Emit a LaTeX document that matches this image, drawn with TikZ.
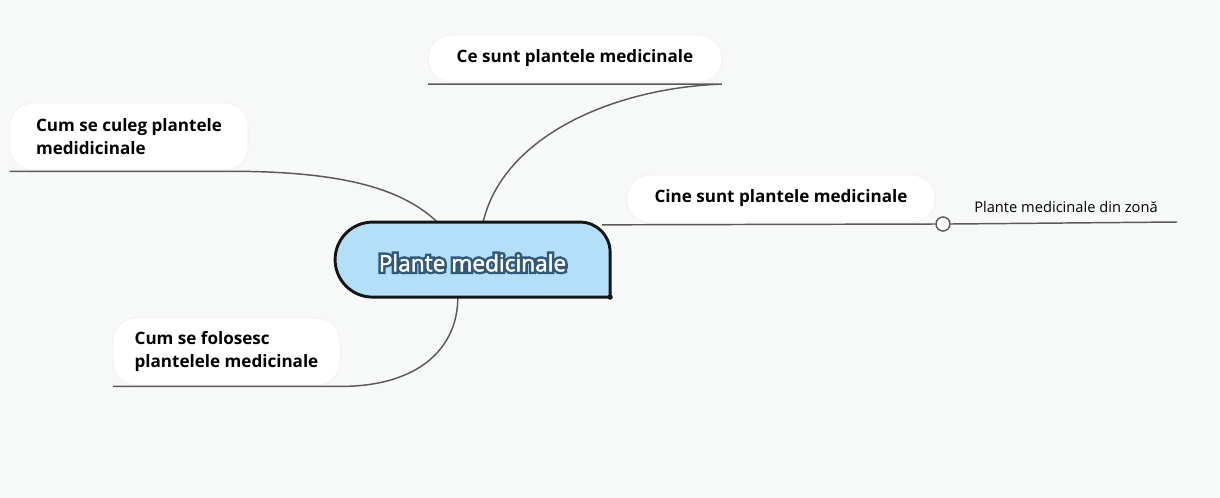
\documentclass[tikz,border=0pt]{standalone}
\usepackage{fontspec}
\setmainfont{Open Sans}
\newfontfamily\glowfont[FakeBold=24]{Open Sans}
\newfontfamily\hubfont[FakeBold=2]{Open Sans}
\usetikzlibrary{positioning}
\definecolor{paper}{HTML}{F7F9F9}
\definecolor{hubfill}{HTML}{B3E0F8}
\definecolor{hubline}{HTML}{151515}
\definecolor{stem}{HTML}{5A5A5A}
\definecolor{glow}{HTML}{30597A}
\tikzset{
  topic/.style={fill=white, draw=black!6, rounded corners=17pt, align=left,
                inner sep=0pt, font=\bfseries\fontsize{12.8}{17}\selectfont,
                preaction={draw=black!3, line width=3pt}},
  branch/.style={stem, line width=1.1pt},
  hubbox/.style={minimum width=206pt, minimum height=56pt, inner sep=0pt},
  hubshape/.style={draw=hubline, fill=hubfill, line width=2.2pt},
  hubtext/.style={text=white, font=\hubfont\fontsize{17}{20}\selectfont},
  knob/.style={circle, draw=stem, fill=white, line width=1.1pt, minimum size=10.5pt, inner sep=0pt},
  leaf/.style={font=\fontsize{11}{13}\selectfont, inner sep=1pt},
}

\begin{document}
\begin{tikzpicture}[x=0.75pt, y=-0.75pt]
    \useasboundingbox[fill=paper] (0,0) rectangle (1220,497);
    % topics round the hub
    \node[topic, minimum width=220pt, minimum height=35pt] (ce) at (575,58.5) {Ce sunt plantele medicinale};
    \node[topic, minimum width=178.5pt, minimum height=50pt] (culeg) at (129,136.5) {Cum se culeg plantele\\medidicinale};
    \node[topic, minimum width=231pt, minimum height=35pt] (cine) at (781,198.5) {Cine sunt plantele medicinale};
    \node[topic, minimum width=170pt, minimum height=50pt] (folosesc) at (226.5,351.5) {Cum se folosesc\\plantelele medicinale};
    \node[hubbox] (hub) at (472.5,259.5) {};
    \coordinate (hub-ce) at ([xshift=8pt]hub.north);
    \coordinate (hub-culeg) at ([xshift=-26.5pt]hub.north);
    \coordinate (hub-fol) at ([xshift=-11pt]hub.south);
    \coordinate (hub-cine) at ([xshift=-6pt, yshift=-2.2pt]hub.north east);
    % branches
    \draw[branch] ([yshift=-1.5pt]ce.south west) -- ([yshift=-1.5pt]ce.south east)
      .. controls +(-110,4) and +(20,-85) .. (hub-ce);
    \draw[branch] ([yshift=-1pt]culeg.south west) -- ([yshift=-1pt]culeg.south east)
      .. controls +(110,2) and +(-30,-28) .. (hub-culeg);
    \draw[branch] ([yshift=-1pt]folosesc.south west) -- ([yshift=-1pt]folosesc.south east)
      .. controls +(80,0) and +(0,50) .. (hub-fol);
    \node[knob] (zoneknob) at (943,224) {};
    \coordinate (zoneend) at (1177,222);
    \draw[branch] (hub-cine) -- (zoneknob.west);
    \draw[branch] (zoneknob.east) -- (zoneend);
    \node[leaf] (zone) at (1066,207) {Plante medicinale din zonă};
    % central topic
    \draw[hubshape] (hub.south east) -- ++(-237.5,0) arc[start angle=90, end angle=270, radius=37.5]
      -- ++(207.5,0) arc[start angle=270, end angle=360, radius=30] -- cycle;
    \fill[hubline] (hub.south east) circle (2pt);
    \node[hubtext, text=glow, font=\glowfont\fontsize{17}{20}\selectfont] (hubglow) at ([yshift=-2.5pt]hub.center) {Plante medicinale};
    \node[hubtext] (hublabel) at (hubglow) {Plante medicinale};
  \end{tikzpicture}
\end{document}
